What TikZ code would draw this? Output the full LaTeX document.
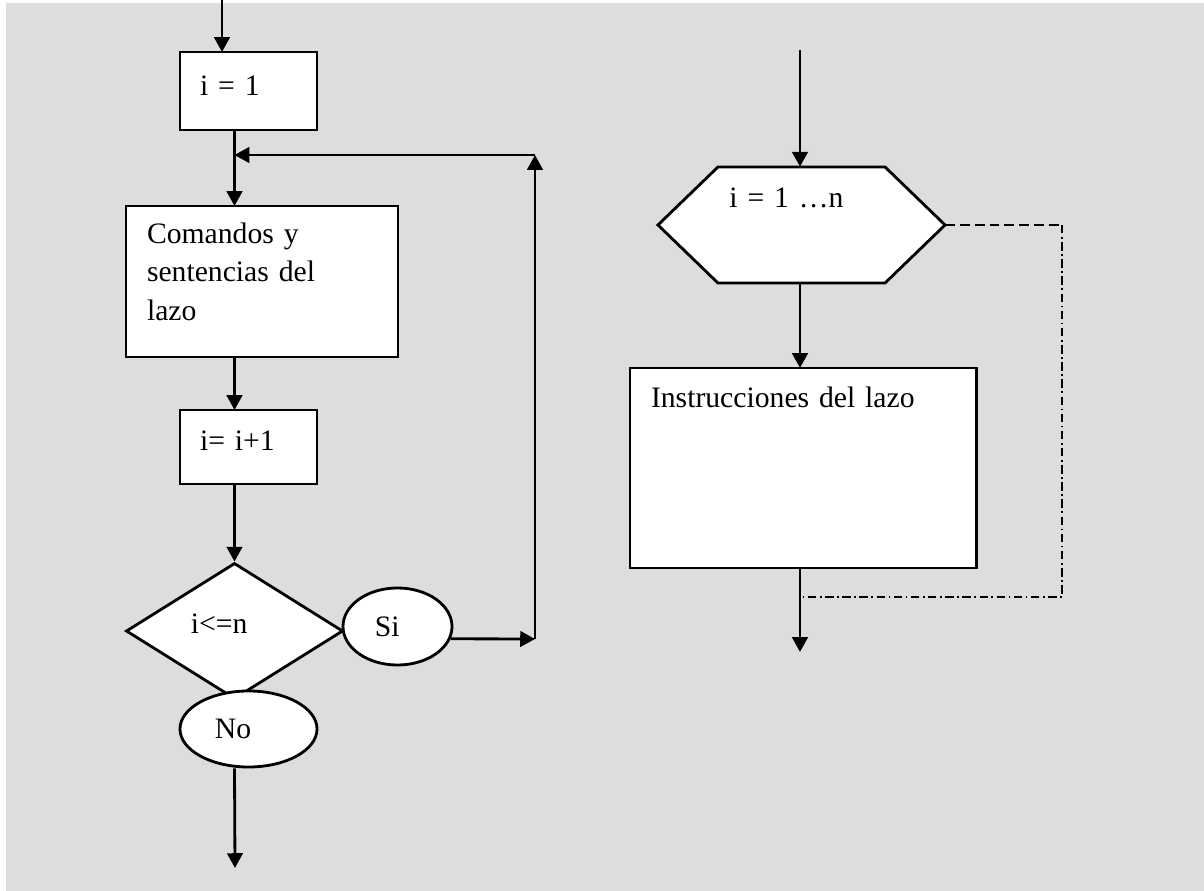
\documentclass[tikz,border=0pt]{standalone}
\usepackage{fontspec}
\setmainfont{Liberation Serif}
\usepackage{tikz}
\usetikzlibrary{shapes.geometric,arrows.meta,calc}
\definecolor{panel}{HTML}{DDDDDD}
\definecolor{ink}{HTML}{000000}

\begin{document}
\begin{tikzpicture}[x=0.025cm,y=-0.025cm,font=\fontsize{21.1}{27.4}\selectfont,box/.style={draw=ink,fill=white,line width=2pt,anchor=north west,align=left,inner ysep=0pt,outer sep=0pt},bubble/.style={ellipse,draw=ink,fill=white,line width=2pt,inner sep=0pt,align=left},hexa/.style={rectangle,inner sep=0pt,align=left,path picture={\filldraw[fill=white,draw=ink,line width=2pt] ($(path picture bounding box.west)+(3,0)$) -- ($(path picture bounding box.north west)+(63,3)$) -- ($(path picture bounding box.north east)+(-63,3)$) -- ($(path picture bounding box.east)+(-3,0)$) -- ($(path picture bounding box.south east)+(-63,-3)$) -- ($(path picture bounding box.south west)+(63,-3)$) -- cycle;}},flow/.style={-{Triangle[length=10.5pt,width=11pt]},line width=2pt,ink},back/.style={line width=1.2pt,ink,dash pattern=on 7pt off 3.5pt},backdot/.style={line width=1.2pt,ink,dash pattern=on 6pt off 2.5pt on 1.2pt off 2.5pt}]
\useasboundingbox (0,0) rectangle (1204,891);
\fill[panel] (6,3) rectangle (1204,891);
\node[box,text width=2.425cm,inner xsep=0.5cm,text height=1.075cm,text depth=0.875cm] (i1) at (180,52) {i = 1};
\node[box,text width=5.75cm,inner xsep=0.525cm,text height=0.925cm,text depth=2.85cm] (cmd) at (126,206) {Comandos y\\sentencias del\\lazo};
\node[box,text width=2.425cm,inner xsep=0.5cm,text height=1.0cm,text depth=0.85cm] (inc) at (180,410) {i= i+1};
\node[diamond,draw=ink,fill=white,line width=2pt,minimum width=5.425cm,minimum height=3.4cm,inner sep=0pt,text width=2.175cm,align=left,text height=0.4cm,text depth=0.3cm] (test) at (234.5,631) {i<=n};
\node[bubble,minimum width=2.725cm,minimum height=1.925cm,text width=1.125cm] (si) at (397.5,626.5) {Si};
\node[bubble,minimum width=3.425cm,minimum height=1.9cm,text width=1.675cm] (no) at (248.5,729) {No};
\node[hexa,minimum width=7.325cm,minimum height=3.05cm,text width=3.6cm,text height=0.5cm,text depth=1.35cm] (loop) at (801.5,225) {i = 1 …n};
\node[box,text width=7.6cm,inner xsep=0.525cm,text height=0.975cm,text depth=4.025cm] (body) at (630,368) {Instrucciones del lazo};
\coordinate (in1) at (222,0);
\coordinate (out1) at (235,868);
\coordinate (rb) at (535,639);
\coordinate (rt) at (535,155);
\coordinate (in2) at (800,50);
\coordinate (out2) at (800,652);
\coordinate (dr1) at (1062,225);
\coordinate (dr2) at (1062,597);
\draw[flow] (in1) -- (in1 |- i1.north);
\draw[flow] (i1.south -| test.north) -- (cmd.north -| test.north);
\draw[flow] (cmd.south -| test.north) -- (inc.north -| test.north);
\draw[flow] (inc.south -| test.north) -- (test.north);
\draw[flow] (no.south -| test.north) -- (out1);
\draw[flow] (si.-13.6) -- (rb);\draw[flow] (rb) -- (rt);\draw[flow] (rt) -- (rt -| test.north);
\draw[flow] (in2) -- ([yshift=-0.075cm]loop.north -| in2);
\draw[flow] ([yshift=0.075cm]loop.south -| in2) -- (body.north -| in2);
\draw[flow] (body.south -| in2) -- (out2);
\draw[back] ([xshift=-0.075cm]loop.east) -- (dr1);
\draw[backdot] (dr1) -- (dr2) -- (dr2 -| in2);
\end{tikzpicture}
\end{document}
